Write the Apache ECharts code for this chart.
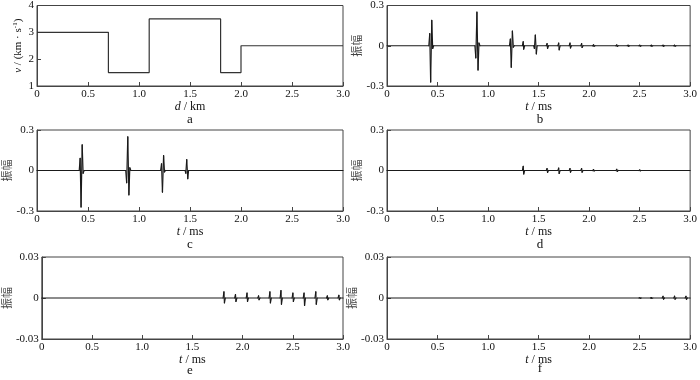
<!DOCTYPE html>
<html><head><meta charset="utf-8">
<script src="https://cdn.jsdelivr.net/npm/echarts@6/dist/echarts.min.js"></script>
<style>html,body{margin:0;padding:0;background:#fff}#c{width:700px;height:380px}</style>
</head><body><div id="c"></div>
<script>
// Panel a: velocity model (step profile)
const depthKm = [0, 0.7, 1.1, 1.8, 2.0, 3.0];
const velocity = [3.0, 1.5, 3.5, 1.5, 2.5, 2.5];

// Panel b: full record [t (ms), amplitude]
const traceB = [
  [0,0],
  [0.414,0],[0.423,0.09],[0.432,-0.27],[0.443,0.19],[0.452,-0.02],[0.462,0],
  [0.870,0],[0.879,-0.09],[0.890,0.25],[0.901,-0.18],[0.910,0.02],[0.920,0],
  [1.212,0],[1.221,0.05],[1.230,-0.16],[1.241,0.11],[1.250,-0.01],[1.260,0],
  [1.340,0],[1.348,0.03],[1.353,-0.025],[1.362,0],
  [1.452,0],[1.459,-0.02],[1.468,0.08],[1.478,-0.06],[1.486,0],
  [1.576,0],[1.584,0.016],[1.589,-0.02],[1.598,0],
  [1.691,0],[1.699,0.02],[1.704,-0.03],[1.713,0],
  [1.803,0],[1.811,0.02],[1.816,-0.016],[1.825,0],
  [1.918,0],[1.926,0.016],[1.931,-0.012],[1.940,0],
  [2.036,0],[2.044,0.007],[2.049,-0.004],[2.058,0],
  [2.266,0],[2.274,0.006],[2.279,-0.004],[2.288,0],
  [2.378,0],[2.386,0.004],[2.391,-0.003],[2.400,0],
  [2.494,0],[2.502,0.004],[2.507,-0.003],[2.516,0],
  [2.608,0],[2.616,0.004],[2.621,-0.003],[2.630,0],
  [2.724,0],[2.732,0.004],[2.737,-0.003],[2.746,0],
  [2.838,0],[2.846,0.004],[2.851,-0.003],[2.860,0],
  [3.0,0]
];

// Panel c: primary reflections
const traceC = [
  [0,0],
  [0.414,0],[0.423,0.09],[0.432,-0.27],[0.443,0.19],[0.452,-0.02],[0.462,0],
  [0.870,0],[0.879,-0.09],[0.890,0.25],[0.901,-0.18],[0.910,0.02],[0.920,0],
  [1.212,0],[1.221,0.05],[1.230,-0.16],[1.241,0.11],[1.250,-0.01],[1.260,0],
  [1.452,0],[1.459,-0.02],[1.468,0.08],[1.478,-0.06],[1.486,0],
  [3.0,0]
];

// Panel d: first-order multiples
const traceD = [
  [0,0],
  [1.340,0],[1.348,0.03],[1.353,-0.026],[1.362,0],
  [1.576,0],[1.584,0.014],[1.589,-0.014],[1.598,0],
  [1.691,0],[1.699,0.018],[1.704,-0.022],[1.713,0],
  [1.803,0],[1.811,0.014],[1.816,-0.012],[1.825,0],
  [1.918,0],[1.926,0.014],[1.931,-0.012],[1.940,0],
  [2.036,0],[2.044,0.007],[2.049,-0.003],[2.058,0],
  [2.266,0],[2.274,0.009],[2.279,-0.007],[2.288,0],
  [2.494,0],[2.502,0.004],[2.507,-0.002],[2.516,0],
  [3.0,0]
];

// Panel e: second-order multiples
const traceE = [
  [0,0],
  [1.806,0],[1.814,0.0045],[1.819,-0.0035],[1.828,0],
  [1.921,0],[1.929,0.0025],[1.934,-0.0025],[1.943,0],
  [2.036,0],[2.044,0.0035],[2.049,-0.0025],[2.058,0],
  [2.151,0],[2.159,0.0015],[2.164,-0.0012],[2.173,0],
  [2.264,0],[2.272,0.0045],[2.277,-0.0035],[2.286,0],
  [2.374,0],[2.382,0.0055],[2.387,-0.0045],[2.396,0],
  [2.493,0],[2.501,0.0035],[2.506,-0.0025],[2.515,0],
  [2.604,0],[2.612,0.0035],[2.617,-0.0055],[2.626,0],
  [2.721,0],[2.729,0.0045],[2.734,-0.0045],[2.743,0],
  [2.836,0],[2.844,0.0015],[2.849,-0.0012],[2.858,0],
  [2.951,0],[2.959,0.002],[2.964,-0.0012],[2.973,0],
  [3.0,0]
];

// Panel f: higher-order multiples
const traceF = [
  [0,0],
  [2.494,0],[2.502,0.0002],[2.507,-0.0002],[2.516,0],
  [2.608,0],[2.616,0.0003],[2.621,-0.0002],[2.630,0],
  [2.724,0],[2.732,0.0012],[2.737,-0.0008],[2.746,0],
  [2.838,0],[2.846,0.0013],[2.851,-0.0008],[2.860,0],
  [2.951,0],[2.959,0.0012],[2.964,-0.001],[2.973,0],
  [3.0,0]
];

const panelLetters = ['a','b','c','d','e','f'];

const serif = '"Liberation Serif","Times New Roman",serif';
const cjk = '"Noto Sans CJK SC",sans-serif';
const axisCol = '#444';
const lineCol = '#1a1a1a';

const grids = [
  {left:37, top:5, width:306, height:81},
  {left:387, top:5, width:306, height:81},
  {left:37, top:130, width:306, height:81},
  {left:387, top:130, width:306, height:81},
  {left:37, top:257, width:306, height:82},
  {left:387, top:257, width:306, height:82}
];

const xFmt = v => (v === 0 ? '0' : v.toFixed(1));
function xAxis(i, name) {
  return {
    type:'value', gridIndex:i, min:0, max:3, interval:0.5,
    name:name, nameLocation:'middle', nameGap:14,
    nameTextStyle:{fontFamily:serif, fontSize:12, color:'#111',
      rich:{i:{fontFamily:serif, fontSize:12, fontStyle:'italic', color:'#111'}}},
    axisLine:{show:true, onZero:false, lineStyle:{color:axisCol, width:1}},
    axisTick:{show:true, inside:true, length:4, lineStyle:{color:axisCol}},
    axisLabel:{fontFamily:serif, fontSize:11, color:'#111', margin:3, formatter:xFmt},
    splitLine:{show:false}
  };
}
function yAxis(i, min, max, interval, name, nameGap, isCjk) {
  return {
    type:'value', gridIndex:i, min:min, max:max, interval:interval,
    name:name, nameLocation:'middle', nameGap:nameGap, nameRotate:90,
    nameTextStyle: isCjk ? {fontFamily:cjk, fontSize:11, color:'#444'} :
      {fontFamily:serif, fontSize:11, color:'#111',
       rich:{i:{fontFamily:serif, fontSize:11, fontStyle:'italic', color:'#111'},
             s:{fontFamily:serif, fontSize:7, color:'#111', verticalAlign:'top', padding:[0,0,6,0]},
             n:{fontFamily:serif, fontSize:11, color:'#111'}}},
    axisLine:{show:true, lineStyle:{color:axisCol, width:1}},
    axisTick:{show:true, inside:true, length:4, lineStyle:{color:axisCol}},
    axisLabel:{fontFamily:serif, fontSize:11, color:'#111', margin:3,
      formatter: v => (Math.abs(v) < 1e-9 ? '0' : String(+v.toFixed(4)))},
    splitLine:{show:false}
  };
}

const traces = [null, traceB, traceC, traceD, traceE, traceF];

// Each trace drawn segment by segment so that tiny wavelets are not dropped.
function traceSeries(i) {
  const tr = traces[i];
  return {
    type:'custom', xAxisIndex:i, yAxisIndex:i, data:tr,
    encode:{x:0, y:1},
    renderItem: function (params, api) {
      const k = params.dataIndex;
      if (k === 0) return null;
      const p0 = api.coord(tr[k-1]);
      const p1 = api.coord(tr[k]);
      return {
        type:'line',
        shape:{x1:p0[0], y1:p0[1], x2:p1[0], y2:p1[1]},
        style:{stroke:lineCol, lineWidth:1.2, lineCap:'round'}
      };
    }
  };
}

const option = {
  animation:false,
  backgroundColor:'#fff',
  grid: grids.map(g => Object.assign({show:true, borderColor:axisCol, borderWidth:1, backgroundColor:'transparent'}, g)),
  xAxis: [
    xAxis(0, '{i|d} / km'),
    xAxis(1, '{i|t} / ms'), xAxis(2, '{i|t} / ms'), xAxis(3, '{i|t} / ms'),
    xAxis(4, '{i|t} / ms'), xAxis(5, '{i|t} / ms')
  ],
  yAxis: [
    yAxis(0, 1, 4, 1, '{i|v}{n| / (km · s}{s|-1}{n|)}', 12, false),
    yAxis(1, -0.3, 0.3, 0.3, '振幅', 21, true),
    yAxis(2, -0.3, 0.3, 0.3, '振幅', 21, true),
    yAxis(3, -0.3, 0.3, 0.3, '振幅', 21, true),
    yAxis(4, -0.03, 0.03, 0.03, '振幅', 24, true),
    yAxis(5, -0.03, 0.03, 0.03, '振幅', 24, true)
  ],
  series: [
    {type:'line', xAxisIndex:0, yAxisIndex:0, step:'end', symbol:'none',
     data: depthKm.map((d,k)=>[d, velocity[k]]),
     lineStyle:{color:'#333', width:1.2}}
  ].concat([1,2,3,4,5].map(traceSeries)),
  graphic: panelLetters.map((t,i) => ({
    type:'text',
    x: grids[i].left + grids[i].width/2,
    y: [120, 120, 245, 245, 371, 369][i],
    style:{text:t, fontFamily:serif, fontSize:13, fill:'#111', textAlign:'center', textVerticalAlign:'middle'}
  }))
};
const chart = echarts.init(document.getElementById('c'), null, {renderer:'canvas'});
chart.setOption(option);
</script>
</body></html>
